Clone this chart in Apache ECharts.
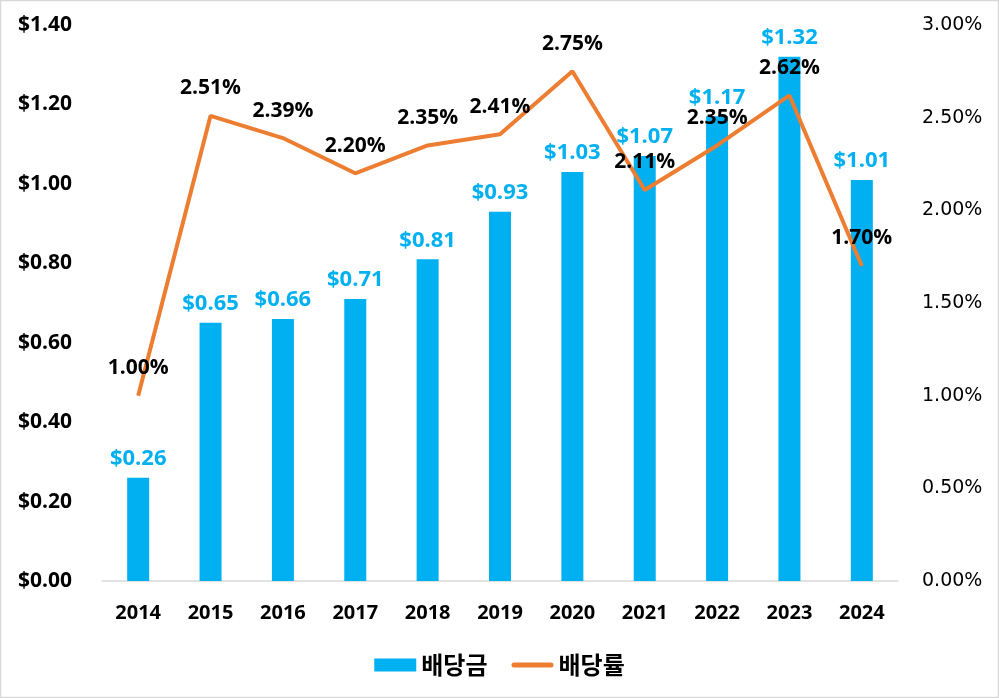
<!DOCTYPE html>
<html><head><meta charset="utf-8">
<script src="https://cdn.jsdelivr.net/npm/echarts@6/dist/echarts.min.js"></script>
<style>html,body{margin:0;padding:0;background:#fff}#c{width:999px;height:698px}</style>
</head><body><div id="c"></div>
<script>
const years = ['2014','2015','2016','2017','2018','2019','2020','2021','2022','2023','2024'];
const dividend = [0.26,0.65,0.66,0.71,0.81,0.93,1.03,1.07,1.17,1.32,1.01];
const yieldPct = [1.00,2.51,2.39,2.20,2.35,2.41,2.75,2.11,2.35,2.62,1.70];
const leftTicks = {min:0,max:1.4,interval:0.2};
const rightTicks = {min:0,max:3,interval:0.5};
const FONT = '"Open Sans","Noto Sans CJK KR",sans-serif';
const chart = echarts.init(document.getElementById('c'));
chart.setOption({
  animation:false,
  backgroundColor:'#fff',
  textStyle:{fontFamily:FONT},
  graphic:[{type:'rect',shape:{x:0.5,y:0.5,width:998,height:697},style:{fill:'none',stroke:'#d9d9d9',lineWidth:1.5},silent:true}],
  grid:{left:102,right:101,top:25,bottom:117},
  legend:{top:648,left:'center',itemWidth:42,itemHeight:13,itemGap:24,
    textStyle:{fontSize:24,fontWeight:'bold',color:'#000',fontFamily:'"Noto Sans CJK KR",sans-serif'},
    data:[{name:'배당금',icon:'rect'},
          {name:'배당률',icon:'path://M0,0 L0.01,0 L0.01,0.01 Z M0,13 L0.01,13 L0.01,12.99 Z M2.5,4 H39.5 A2.5,2.5 0 0 1 39.5,9 H2.5 A2.5,2.5 0 0 1 2.5,4 Z'}]},
  xAxis:{type:'category',data:years,
    axisLine:{lineStyle:{color:'#d9d9d9',width:1.5}},axisTick:{show:false},
    axisLabel:{fontSize:20,fontWeight:'bold',color:'#000',margin:22,fontFamily:FONT}},
  yAxis:[
    {type:'value',min:leftTicks.min,max:leftTicks.max,interval:leftTicks.interval,splitLine:{show:false},
     axisLine:{show:false},axisTick:{show:false},
     axisLabel:{fontSize:21,fontWeight:'bold',color:'#000',margin:30,fontFamily:FONT,formatter:v=>'$'+v.toFixed(2)}},
    {type:'value',min:rightTicks.min,max:rightTicks.max,interval:rightTicks.interval,splitLine:{show:false},
     axisLine:{show:false},axisTick:{show:false},
     axisLabel:{fontSize:19,color:'#000',margin:24,fontFamily:'"DejaVu Sans",sans-serif',formatter:v=>v.toFixed(2)+'%'}}
  ],
  series:[
    {name:'배당금',type:'bar',data:dividend,barWidth:22,itemStyle:{color:'#00B0F0'},z:2,
     label:{show:true,position:'top',distance:8,fontSize:22,fontWeight:'bold',color:'#00B0F0',fontFamily:FONT,
       formatter:p=>'$'+p.value.toFixed(2)}},
    {name:'배당률',type:'line',yAxisIndex:1,data:yieldPct,symbol:'circle',symbolSize:0.01,showSymbol:true,z:5,
     lineStyle:{color:'#ED7D31',width:4},itemStyle:{color:'#ED7D31'},
     label:{show:true,position:'top',distance:17,fontSize:21,fontWeight:'bold',color:'#000',fontFamily:FONT,
       formatter:p=>p.value.toFixed(2)+'%'}}
  ]
});
</script></body></html>
